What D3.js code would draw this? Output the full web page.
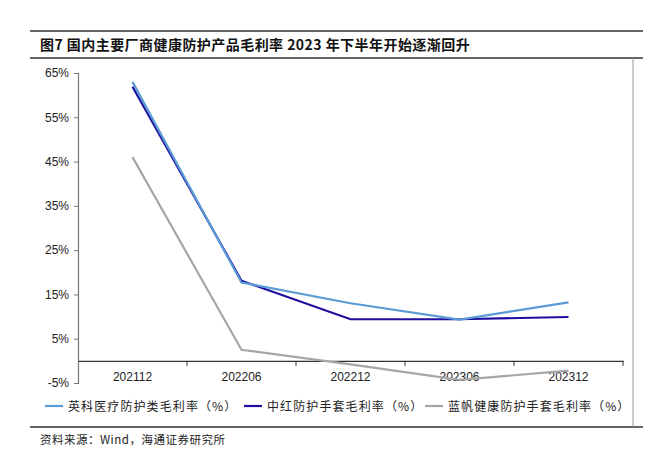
<!DOCTYPE html>
<html><head><meta charset="utf-8">
<script src="https://cdn.jsdelivr.net/npm/d3@7"></script>
<style>body{margin:0;background:#fff}svg{display:block}</style>
</head><body>
<svg id="c" width="651" height="459"></svg>
<script>
const categories = ["202112","202206","202212","202306","202312"];
const seriesNames = ["英科医疗防护类毛利率（%）","中红防护手套毛利率（%）","蓝帆健康防护手套毛利率（%）"];
const yingke = [63.0, 17.7, 13.0, 9.3, 13.2];
const zhonghong = [61.9, 18.1, 9.4, 9.4, 9.9];
const lanfan = [46.0, 2.5, -0.8, -4.3, -2.2];
const yTicks = [-5, 5, 15, 25, 35, 45, 55, 65];
const colors = ["#5B9BD5", "#1E0F9E", "#A6A6A6"];
const titleText = "图7 国内主要厂商健康防护产品毛利率 2023 年下半年开始逐渐回升";
const sourceText = "资料来源：Wind，海通证券研究所";

const svg = d3.select("#c");
const cjk = "'Noto Sans CJK SC', 'Liberation Sans', sans-serif";
const latin = "'Liberation Sans', Arial, sans-serif";

// frame rules
svg.append("line").attr("x1",30).attr("x2",643).attr("y1",31).attr("y2",31).attr("stroke","#333").attr("stroke-width",1.3);
svg.append("line").attr("x1",30).attr("x2",643).attr("y1",58).attr("y2",58).attr("stroke","#333").attr("stroke-width",1.3);
svg.append("line").attr("x1",30).attr("x2",643).attr("y1",427).attr("y2",427).attr("stroke","#333").attr("stroke-width",1.3);
svg.append("line").attr("x1",633).attr("x2",633).attr("y1",58).attr("y2",427).attr("stroke","#999").attr("stroke-width",1);

svg.append("text").attr("x",40).attr("y",49.5).attr("font-family",cjk).attr("font-weight","bold")
  .attr("font-size",14).attr("letter-spacing",0.45).attr("fill","#111").text(titleText);
svg.append("text").attr("x",40).attr("y",444).attr("font-family",cjk)
  .attr("font-size",11.5).attr("letter-spacing",0.5).attr("fill","#222").text(sourceText);

const x = d3.scaleBand().domain(categories).range([78, 623]);
const y = d3.scaleLinear().domain([-5, 65]).range([383, 73]);

// y axis
const ya = svg.append("g").attr("transform","translate(78,0)")
  .call(d3.axisLeft(y).tickValues(yTicks).tickFormat(d => d + "%").tickSize(4).tickPadding(5));
ya.select(".domain").attr("stroke","#777").attr("stroke-width",1.2);
ya.selectAll(".tick line").attr("stroke","#777");
ya.selectAll("text").attr("font-family",latin).attr("font-size",12).attr("fill","#222");

// x axis at zero
const xa = svg.append("g").attr("transform",`translate(0,${y(0)})`)
  .call(d3.axisBottom(x).tickSize(0).tickPadding(12));
xa.select(".domain").attr("stroke","#333").attr("stroke-width",1.2);
xa.selectAll("text").attr("font-family",latin).attr("font-size",12).attr("fill","#222");
// band boundary ticks
const bounds = categories.slice(1).map(c => x(c)).concat([x.range()[1]]);
svg.append("g").selectAll("line").data(bounds).join("line")
  .attr("x1",d=>d).attr("x2",d=>d).attr("y1",y(0)).attr("y2",y(0)+5)
  .attr("stroke","#333").attr("stroke-width",1);

const line = d3.line().x((d,i)=>x(categories[i]) + x.bandwidth()/2).y(d=>y(d));
const data = [yingke, zhonghong, lanfan];
[2,1,0].forEach(k => {
  svg.append("path").datum(data[k]).attr("d", line).attr("fill","none")
    .attr("stroke", colors[k]).attr("stroke-width", 2.2).attr("stroke-linejoin","miter");
});

// legend
const legendX = [45, 244, 425];
const lg = svg.append("g");
seriesNames.forEach((n,i) => {
  lg.append("line").attr("x1",legendX[i]).attr("x2",legendX[i]+18).attr("y1",406).attr("y2",406)
    .attr("stroke",colors[i]).attr("stroke-width",2.2);
  lg.append("text").attr("x",legendX[i]+23).attr("y",410.5).attr("font-family",cjk)
    .attr("font-size",12).attr("letter-spacing",1.1).attr("fill","#222").text(n);
});
</script>
</body></html>
